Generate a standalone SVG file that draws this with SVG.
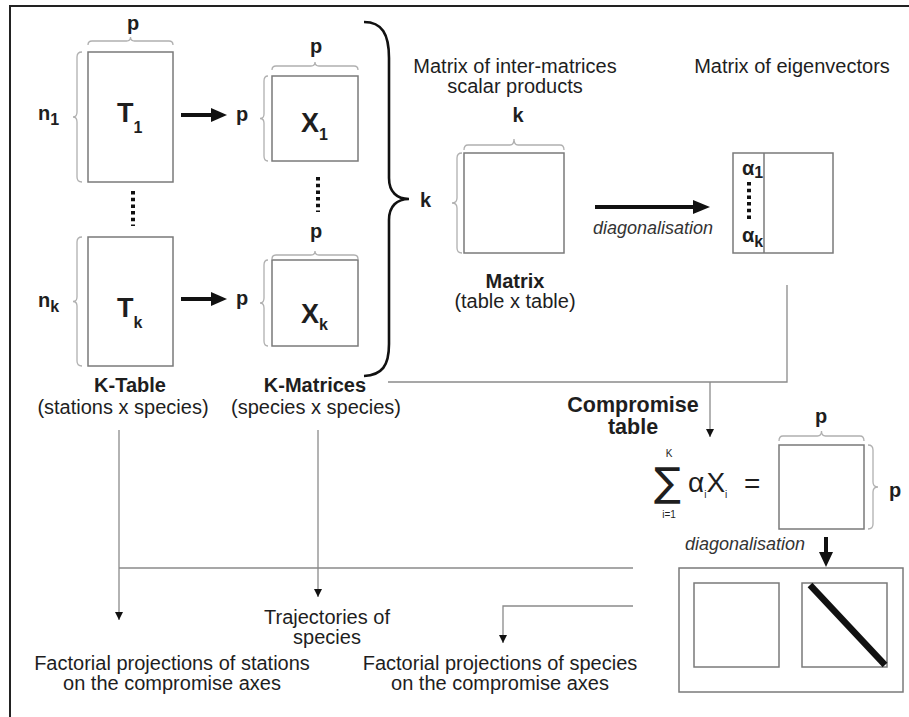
<svg xmlns="http://www.w3.org/2000/svg" width="909" height="717" viewBox="0 0 909 717">
<style>
text{font-family:"Liberation Sans",Arial,sans-serif;fill:#1e1e1e}
.r{font-size:20px}
.b{font-size:20px;font-weight:bold}
.big{font-size:27px;font-weight:bold}
.sub{font-size:16px;font-weight:bold}
.it{font-size:18px;font-style:italic;fill:#333}
.m{text-anchor:middle}
.box{fill:none;stroke:#7a7a7a;stroke-width:1.5}
.br{fill:none;stroke:#b0b0b0;stroke-width:1.3}
.ln{fill:none;stroke:#8a8a8a;stroke-width:1.3}
.th{fill:none;stroke:#111;stroke-width:4}
.dots{stroke:#111;stroke-width:4;stroke-dasharray:3.5 3.2}
</style>
<defs>
<marker id="ah" viewBox="0 0 10 10" refX="10" refY="5" markerWidth="8" markerHeight="8" markerUnits="userSpaceOnUse" orient="auto">
<path d="M0,0 L10,5 L0,10 Z" fill="#111"/>
</marker>
</defs>
<rect width="909" height="717" fill="#fff"/>
<path d="M10,717 V6 H909" fill="none" stroke="#222" stroke-width="2"/>

<g id="T1">
<rect class="box" x="88" y="52" width="85" height="130"/>
<path class="br" d="M88,45 Q88,41 92,41 L126.5,41 Q130.5,41 130.5,37 Q130.5,41 134.5,41 L169,41 Q173,41 173,45"/>
<path class="br" d="M82,52 Q77,52 77,57 L77,112 Q77,117 73,117 Q77,117 77,122 L77,177 Q77,182 82,182"/>
<text class="b m" x="133" y="30">p</text>
<text class="b" x="38" y="120">n<tspan class="sub" font-size="13" dy="5">1</tspan></text>
<text class="big" x="117" y="122">T<tspan class="sub" dy="11">1</tspan></text>
</g>

<g id="X1">
<rect class="box" x="272" y="76" width="86" height="85"/>
<path class="br" d="M272,70 Q272,66 276,66 L311,66 Q315,66 315,62 Q315,66 319,66 L354,66 Q358,66 358,70"/>
<path class="br" d="M268,76 Q264,76 264,81 L264,114 Q264,118.5 260,118.5 Q264,118.5 264,123 L264,156 Q264,161 268,161"/>
<text class="b m" x="316" y="53">p</text>
<text class="b" x="236" y="121">p</text>
<text class="big" x="301" y="132">X<tspan class="sub" dy="8">1</tspan></text>
</g>

<g id="Tk">
<rect class="box" x="88" y="237" width="85" height="129"/>
<path class="br" d="M82,237 Q77,237 77,242 L77,297 Q77,301.5 73,301.5 Q77,301.5 77,306 L77,361 Q77,366 82,366"/>
<text class="b" x="38" y="307">n<tspan class="sub" font-size="13" dy="5">k</tspan></text>
<text class="big" x="117" y="317">T<tspan class="sub" dy="11">k</tspan></text>
</g>

<g id="Xk">
<rect class="box" x="272" y="260" width="86" height="86"/>
<path class="br" d="M272,259 Q272,255 276,255 L311,255 Q315,255 315,251 Q315,255 319,255 L354,255 Q358,255 358,259"/>
<path class="br" d="M268,260 Q264,260 264,265 L264,298 Q264,303 260,303 Q264,303 264,308 L264,341 Q264,346 268,346"/>
<text class="b m" x="316" y="238">p</text>
<text class="b" x="236" y="305">p</text>
<text class="big" x="301" y="323">X<tspan class="sub" dy="7">k</tspan></text>
</g>

<g id="dots">
<line class="dots" x1="133" y1="191" x2="133" y2="226"/>
<line class="dots" x1="318" y1="177" x2="318" y2="212"/>
</g>

<g id="labels-left">
<text class="b m" x="130" y="392">K-Table</text>
<text class="r m" x="123" y="414">(stations x species)</text>
<text class="b m" x="315" y="392">K-Matrices</text>
<text class="r m" x="316" y="414">(species x species)</text>
</g>

<g id="bigbrace">
<path d="M364,22 C382,22 389,34 389,58 L389,178 C389,192 397,199 409,199 C397,199 389,206 389,220 L389,344 C389,366 382,375 364,376" fill="none" stroke="#111" stroke-width="2.6"/>
<text class="b" x="420" y="207">k</text>
</g>

<g id="matrix">
<text class="r m" x="515" y="73">Matrix of inter-matrices</text>
<text class="r m" x="515" y="93">scalar products</text>
<text class="b m" x="518" y="122">k</text>
<rect class="box" x="464" y="153" width="100" height="100"/>
<path class="br" d="M464,150 Q464,145 468,145 L510,145 Q514,145 514,139 Q514,145 518,145 L560,145 Q564,145 564,150"/>
<path class="br" d="M462,153 Q457,153 457,158 L457,198 Q457,203 452,203 Q457,203 457,208 L457,248 Q457,253 462,253"/>
<text class="b m" x="515" y="288">Matrix</text>
<text class="r m" x="515" y="308">(table x table)</text>
</g>

<g id="eigen">
<text class="r m" x="792" y="73">Matrix of eigenvectors</text>
<rect class="box" x="733" y="153" width="100" height="100"/>
<line class="box" x1="764" y1="153" x2="764" y2="253"/>
<text class="b" x="742" y="175" font-size="19">α<tspan class="sub" font-size="12" dy="3">1</tspan></text>
<line class="dots" x1="749" y1="182" x2="749" y2="219" stroke-width="3.5"/>
<text class="b" x="742" y="242" font-size="19">α<tspan class="sub" font-size="12" dy="5">k</tspan></text>
</g>

<g id="compromise">
<text class="m" x="633" y="412" font-size="21.5" font-weight="bold">Compromise</text>
<text class="m" x="633" y="434" font-size="21.5" font-weight="bold">table</text>
<text x="654" y="496" font-size="40" style="font-family:'DejaVu Sans',sans-serif">∑</text>
<text class="m" x="669" y="457" font-size="10" fill="#444">K</text>
<text class="m" x="669" y="518" font-size="10" fill="#444">i=1</text>
<text x="688" y="492" font-size="28">α<tspan font-size="10" dy="6">i</tspan><tspan font-size="28" dy="-6">X</tspan><tspan font-size="10" dy="6">i</tspan></text>
<text x="744" y="493" font-size="28">=</text>
<rect class="box" x="779" y="445" width="85" height="84"/>
<path class="br" d="M779,441 Q779,436 783,436 L817.5,436 Q821.5,436 821.5,431 Q821.5,436 825.5,436 L860,436 Q864,436 864,441"/>
<path class="br" d="M868,445 Q873,445 873,450 L873,482 Q873,487 878,487 Q873,487 873,492 L873,524 Q873,529 868,529"/>
<text class="b m" x="821" y="423">p</text>
<text class="b" x="889" y="497">p</text>
</g>

<g id="result">
<text class="it m" x="745" y="550">diagonalisation</text>
<rect class="box" x="679" y="568" width="224" height="124"/>
<rect class="box" x="694" y="583" width="85" height="84"/>
<rect class="box" x="802" y="583" width="85" height="84"/>
<line x1="810" y1="585" x2="885" y2="665" stroke="#111" stroke-width="6.5"/>
</g>

<g id="bottom-labels">
<text class="r m" x="327" y="624">Trajectories of</text>
<text class="r m" x="327" y="644">species</text>
<text class="r m" x="172" y="670">Factorial projections of stations</text>
<text class="r m" x="172" y="690">on the compromise axes</text>
<text class="r m" x="500" y="670">Factorial projections of species</text>
<text class="r m" x="500" y="690">on the compromise axes</text>
</g>

<g id="connectors">
<line class="th" x1="181" y1="115" x2="212" y2="115"/>
<path d="M211,108 L227,115 L211,122 Z" fill="#111"/>
<line class="th" x1="181" y1="299" x2="212" y2="299"/>
<path d="M211,292 L227,299 L211,306 Z" fill="#111"/>
<line class="th" x1="595" y1="207" x2="694" y2="207"/>
<path d="M693,200 L710,207 L693,214 Z" fill="#111"/>
<text class="it m" x="653" y="234">diagonalisation</text>
<line class="th" x1="826" y1="537" x2="826" y2="553"/>
<path d="M819,552 L826,567 L833,552 Z" fill="#111"/>
<path class="ln" d="M787,285 V382 H388"/>
<path class="ln" d="M710,382 V437" marker-end="url(#ah)"/>
<path class="ln" d="M119,430 V620" marker-end="url(#ah)"/>
<path class="ln" d="M318,430 V597" marker-end="url(#ah)"/>
<path class="ln" d="M119,568 H633"/>
<path class="ln" d="M633,606 H503 V643" marker-end="url(#ah)"/>
</g>
</svg>
